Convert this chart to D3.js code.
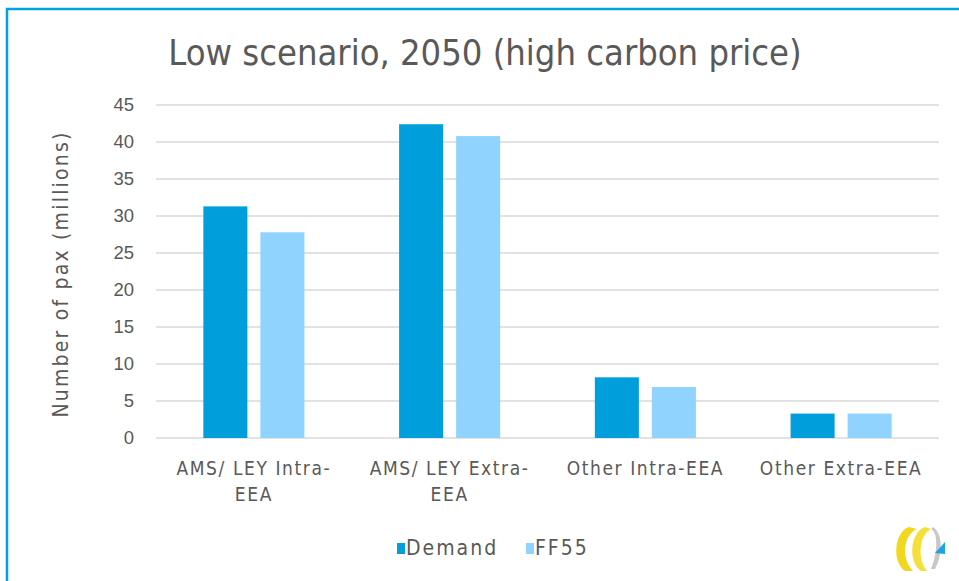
<!DOCTYPE html>
<html>
<head>
<meta charset="utf-8">
<script src="https://cdn.jsdelivr.net/npm/d3@7"></script>
<style>
  body { margin: 0; background: #fff; }
  svg { display: block; font-family: "DejaVu Sans Condensed", "Lato", sans-serif; }
</style>
</head>
<body>
<div id="chart"></div>
<script>
var categories = [["AMS/ LEY Intra-", "EEA"], ["AMS/ LEY Extra-", "EEA"], ["Other Intra-EEA"], ["Other Extra-EEA"]];
var seriesNames = ["Demand", "FF55"];
var demand = [31.3, 42.4, 8.2, 3.3];
var ff55 = [27.8, 40.8, 6.9, 3.3];
var yTicks = [0, 5, 10, 15, 20, 25, 30, 35, 40, 45];
var colors = ["#009fdb", "#8fd3fe"];

var width = 959, height = 581;

var svg = d3.select("#chart").append("svg")
	.attr("width", width)
	.attr("height", height);

// frame (only top and left edges visible)
svg.append("path")
	.attr("d", "M7,581V9H959")
	.attr("fill", "none")
	.attr("stroke", "#00a3e0")
	.attr("stroke-width", 2.5);

var rows = categories.map(function(c, i) {
	return {cat: c, idx: i, values: [demand[i], ff55[i]]};
});

var x0 = d3.scaleBand()
	.domain(d3.range(categories.length))
	.range([156, 939]);

var x1 = d3.scaleBand()
	.domain(d3.range(seriesNames.length))
	.range([0, x0.bandwidth()])
	.paddingInner(0.228)
	.paddingOuter(0.83);

var y = d3.scaleLinear()
	.domain([0, 45])
	.range([438, 105]);

var textColor = "#595959";

// gridlines
svg.append("g")
	.selectAll("line")
	.data(yTicks)
	.enter().append("line")
		.attr("x1", 156)
		.attr("x2", 939)
		.attr("y1", function(d) { return y(d); })
		.attr("y2", function(d) { return y(d); })
		.attr("stroke", "#d9d9d9")
		.attr("stroke-width", 1.5);

// y axis labels
var yAxis = d3.axisLeft(y).tickValues(yTicks).tickSize(0).tickPadding(0);
var yg = svg.append("g")
	.attr("transform", "translate(134,0)")
	.call(yAxis);
yg.select(".domain").remove();
yg.selectAll("text")
	.attr("fill", textColor)
	.style("font-size", "18.5px")
	.style("font-family", "inherit");

// bars
var groups = svg.append("g")
	.selectAll("g")
	.data(rows)
	.enter().append("g")
		.attr("transform", function(d) { return "translate(" + x0(d.idx) + ",0)"; });

groups.selectAll("rect")
	.data(function(d) { return d.values.map(function(v, j) { return {v: v, j: j}; }); })
	.enter().append("rect")
		.attr("x", function(d) { return x1(d.j); })
		.attr("width", x1.bandwidth())
		.attr("y", function(d) { return y(d.v); })
		.attr("height", function(d) { return y(0) - y(d.v); })
		.attr("fill", function(d) { return colors[d.j]; });

// category labels
var catText = svg.append("g")
	.selectAll("text")
	.data(rows)
	.enter().append("text")
		.attr("x", function(d) { return x0(d.idx) + x0.bandwidth() / 2; })
		.attr("y", 475)
		.attr("text-anchor", "middle")
		.attr("fill", textColor)
		.style("font-size", "19px")
		.style("letter-spacing", "1.6px");

catText.selectAll("tspan")
	.data(function(d) { return d.cat; })
	.enter().append("tspan")
		.attr("x", function() { return d3.select(this.parentNode).attr("x"); })
		.attr("dy", function(d, i) { return i === 0 ? 0 : 26; })
		.text(function(d) { return d; });

// y axis title
svg.append("text")
	.attr("transform", "translate(68,274) rotate(-90)")
	.attr("text-anchor", "middle")
	.attr("fill", textColor)
	.style("font-size", "21px")
	.style("letter-spacing", "2.2px")
	.text("Number of pax (millions)");

// title
svg.append("text")
	.attr("x", 485)
	.attr("y", 65)
	.attr("text-anchor", "middle")
	.attr("fill", textColor)
	.style("font-size", "36px")
	.text("Low scenario, 2050 (high carbon price)");

// legend
var legendX = [397, 526];
var legend = svg.append("g")
	.selectAll("g")
	.data(seriesNames)
	.enter().append("g")
		.attr("transform", function(d, i) { return "translate(" + legendX[i] + ",543)"; });
legend.append("rect")
	.attr("width", 8)
	.attr("height", 11)
	.attr("fill", function(d, i) { return colors[i]; });
legend.append("text")
	.attr("x", 9)
	.attr("y", 12)
	.attr("fill", textColor)
	.style("font-size", "21px")
	.style("letter-spacing", "2px")
	.text(function(d) { return d; });

// logo
var logo = svg.append("g").attr("transform", "translate(893,527)");
logo.append("path")
	.attr("d", "M16,0 C2,4 -2,34 12,44 L20,44 C8,32 10,8 24,2 Z")
	.attr("fill", "#f1d81e");
logo.append("path")
	.attr("d", "M32,0 C18,4 14,34 28,44 L34,44 C24,32 26,8 38,2 Z")
	.attr("fill", "#f5e03a");
logo.append("path")
	.attr("d", "M38,2 C46,6 44,28 38,42 L42,42 C50,28 50,6 40,0 Z")
	.attr("fill", "#c8c8c8");
logo.append("path")
	.attr("d", "M42,26 L52,15 L52,27 Z")
	.attr("fill", "#1ca3e4");
</script>
</body>
</html>
